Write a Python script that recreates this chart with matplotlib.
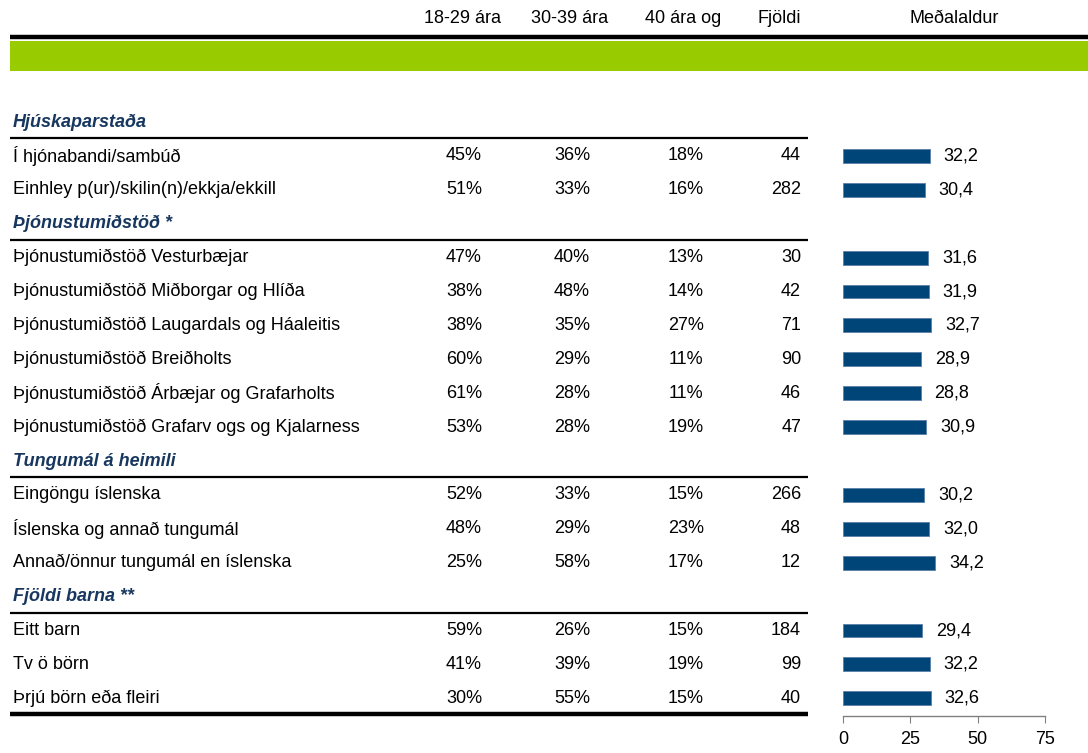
import matplotlib
matplotlib.use("Agg")
import matplotlib.pyplot as plt

plt.rcParams['font.family'] = ['Liberation Sans', 'DejaVu Sans']

col_headers = ["18-29 ára", "30-39 ára", "40 ára og", "Fjöldi", "Meðalaldur"]
section_names = ["Hjúskaparstaða", "Þjónustumiðstöð *", "Tungumál á heimili", "Fjöldi barna **"]
section_sizes = [2, 6, 3, 3]
categories = [
    "Í hjónabandi/sambúð",
    "Einhley p(ur)/skilin(n)/ekkja/ekkill",
    "Þjónustumiðstöð Vesturbæjar",
    "Þjónustumiðstöð Miðborgar og Hlíða",
    "Þjónustumiðstöð Laugardals og Háaleitis",
    "Þjónustumiðstöð Breiðholts",
    "Þjónustumiðstöð Árbæjar og Grafarholts",
    "Þjónustumiðstöð Grafarv ogs og Kjalarness",
    "Eingöngu íslenska",
    "Íslenska og annað tungumál",
    "Annað/önnur tungumál en íslenska",
    "Eitt barn",
    "Tv ö börn",
    "Þrjú börn eða fleiri",
]
p18_29 = [45, 51, 47, 38, 38, 60, 61, 53, 52, 48, 25, 59, 41, 30]
p30_39 = [36, 33, 40, 48, 35, 29, 28, 28, 33, 29, 58, 26, 39, 55]
p40 = [18, 16, 13, 14, 27, 11, 11, 19, 15, 23, 17, 15, 19, 15]
fjoldi = [44, 282, 30, 42, 71, 90, 46, 47, 266, 48, 12, 184, 99, 40]
medalaldur = [32.2, 30.4, 31.6, 31.9, 32.7, 28.9, 28.8, 30.9, 30.2, 32.0, 34.2, 29.4, 32.2, 32.6]
x_ticks = [0, 25, 50, 75]

W, H = 1088, 753
fig = plt.figure(figsize=(W / 100, H / 100), dpi=100)
bg = fig.add_axes([0, 0, 1, 1])
bg.set_xlim(0, W)
bg.set_ylim(H, 0)
bg.axis('off')

FS = 13
NAVY = '#17375E'
BAR = '#004578'

y0, dy = 122, 33.9
def ypx(slot):
    return y0 + dy * slot

# headers
hx = [463, 570, 683, 779, 954]
for x, t in zip(hx, col_headers):
    bg.text(x, 18, t, ha='center', va='center', fontsize=FS)

# top black line and green band
bg.plot([10, W], [37, 37], color='black', lw=3.2, solid_capstyle='butt')
bg.add_patch(plt.Rectangle((10, 41), W - 10, 30, color='#99CC00', lw=0))

# rows
slot = 0
row_slots = []
idx = 0
for name, n in zip(section_names, section_sizes):
    y = ypx(slot)
    bg.text(13, y, name, ha='left', va='center', fontsize=FS, fontweight='bold',
            fontstyle='italic', color=NAVY)
    bg.plot([10, 808], [y + 16, y + 16], color='black', lw=1.6, solid_capstyle='butt')
    slot += 1
    for k in range(n):
        y = ypx(slot)
        row_slots.append(slot)
        bg.text(13, y, categories[idx], ha='left', va='center', fontsize=FS)
        bg.text(464, y, f"{p18_29[idx]}%", ha='center', va='center', fontsize=FS)
        bg.text(572, y, f"{p30_39[idx]}%", ha='center', va='center', fontsize=FS)
        bg.text(686, y, f"{p40[idx]}%", ha='center', va='center', fontsize=FS)
        bg.text(801, y, f"{fjoldi[idx]}", ha='right', va='center', fontsize=FS)
        idx += 1
        slot += 1

# bottom thick line
bg.plot([10, 808], [714, 714], color='black', lw=3.2, solid_capstyle='butt')

# bar axes
top_px, bot_px = 105, 716
left_px, right_px = 843, 1045
ax = fig.add_axes([left_px / W, 1 - bot_px / H, (right_px - left_px) / W, (bot_px - top_px) / H])
ax.set_xlim(0, 75)
ax.set_ylim((bot_px - y0) / dy, (top_px - y0) / dy)
ax.barh(row_slots, medalaldur, height=0.41, color=BAR, edgecolor='#5B7FA8', linewidth=0.6)
for s, v in zip(row_slots, medalaldur):
    ax.annotate(f"{v:.1f}".replace('.', ','), (v, s), xytext=(10, 0), textcoords='offset points',
                ha='left', va='center', fontsize=FS)
for sp in ['top', 'right', 'left']:
    ax.spines[sp].set_visible(False)
ax.spines['bottom'].set_color('#808080')
ax.spines['bottom'].set_linewidth(1.0)
ax.set_yticks([])
ax.set_xticks(x_ticks)
ax.set_xticklabels([str(t) for t in x_ticks])
ax.tick_params(axis='x', direction='out', length=5, color='#808080', labelsize=FS, pad=6)
ax.patch.set_alpha(0)

fig.savefig('out.png', dpi=100)
